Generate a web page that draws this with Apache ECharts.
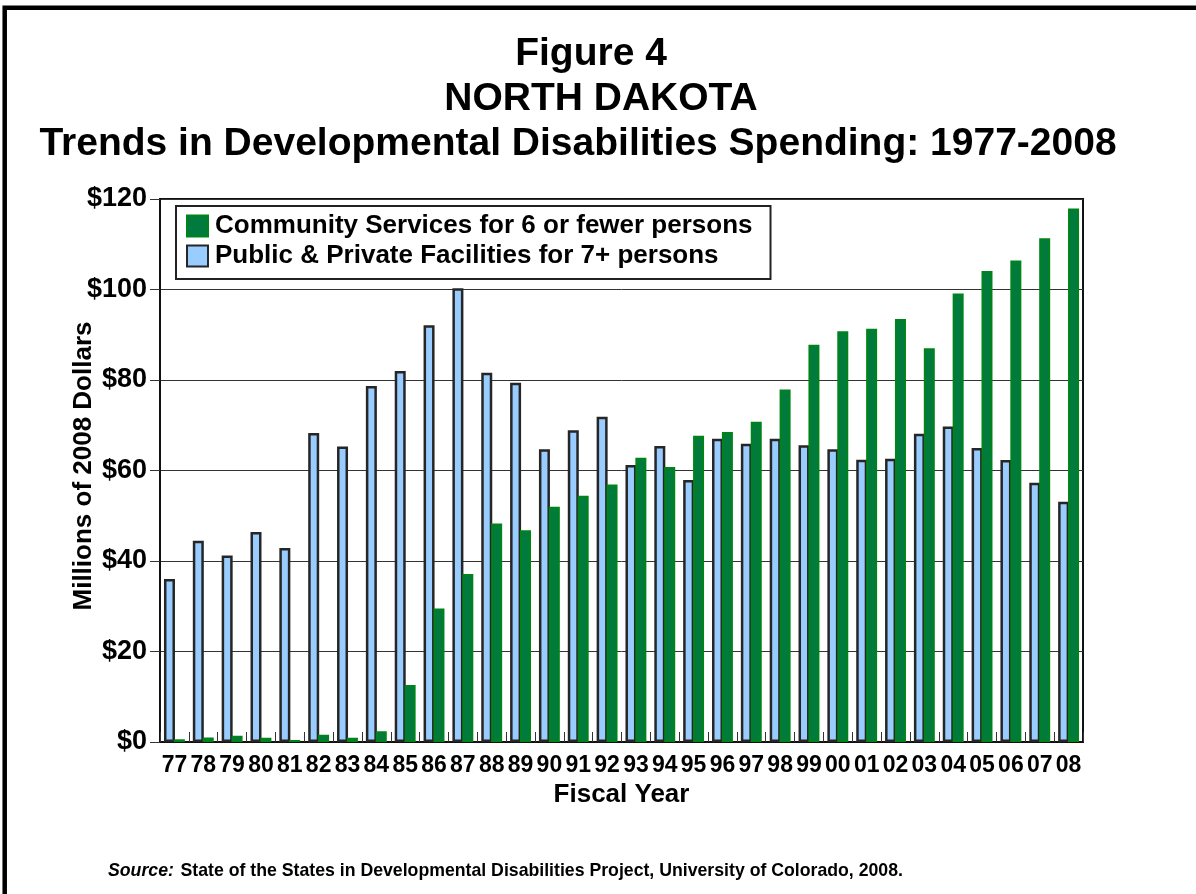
<!DOCTYPE html>
<html>
<head>
<meta charset="utf-8">
<script src="https://cdn.jsdelivr.net/npm/echarts@6/dist/echarts.min.js"></script>
<style>
html,body{margin:0;padding:0;background:#fff;}
#main{width:1196px;height:894px;}
</style>
</head>
<body>
<div id="main"></div>
<script>
var years = ['77','78','79','80','81','82','83','84','85','86','87','88','89','90','91','92','93','94','95','96','97','98','99','00','01','02','03','04','05','06','07','08'];
var facilities = [36.0,44.5,41.2,46.4,42.9,68.3,65.3,78.7,82.0,92.1,100.3,81.6,79.4,64.7,68.9,71.9,61.2,65.4,57.9,67.0,65.9,67.0,65.6,64.7,62.4,62.6,68.1,69.7,65.0,62.3,57.3,53.1];
var community = [0.6,1.0,1.4,0.95,0.45,1.6,0.95,2.4,12.6,29.5,37.1,48.3,46.8,52.0,54.4,56.9,62.8,60.8,67.7,68.5,70.8,77.9,87.8,90.8,91.3,93.5,87.0,99.1,104.1,106.4,111.3,117.9];
var yTicks = [0,20,40,60,80,100,120];
var seriesNames = ['Community Services for 6 or fewer persons','Public & Private Facilities for 7+ persons'];
var titleLines = ['Figure 4','NORTH DAKOTA','Trends in Developmental Disabilities Spending: 1977-2008'];

var FONT = 'Liberation Sans, Arial, Helvetica, sans-serif';
var chart = echarts.init(document.getElementById('main'), null, {renderer:'canvas'});
chart.setOption({
  backgroundColor:'#fff',
  animation:false,
  title:[
    {text:titleLines[0], left:586, top:27, textAlign:'center', textStyle:{fontFamily:FONT,fontWeight:'bold',fontSize:39,color:'#000',lineHeight:45}},
    {text:titleLines[1], left:596, top:72, textAlign:'center', textStyle:{fontFamily:FONT,fontWeight:'bold',fontSize:39,color:'#000',lineHeight:45}},
    {text:titleLines[2], left:573, top:117, textAlign:'center', textStyle:{fontFamily:FONT,fontWeight:'bold',fontSize:39,color:'#000',lineHeight:45}}
  ],
  legend:{
    orient:'vertical',
    left:176, top:206,
    data:[seriesNames[0], seriesNames[1]],
    backgroundColor:'#fff',
    borderColor:'#222', borderWidth:2,
    padding:[7,18,10,10],
    itemGap:4,
    itemWidth:21, itemHeight:21,
    icon:'rect',
    textStyle:{fontFamily:FONT,fontWeight:'bold',fontSize:26,color:'#000',lineHeight:25,padding:[0,0,0,2]}
  },
  grid:{left:160,right:113,top:199,bottom:152,show:true,borderColor:'#111',borderWidth:2,backgroundColor:'transparent'},
  xAxis:{
    type:'category',
    data:years,
    name:'Fiscal Year',
    nameLocation:'middle',
    nameGap:38,
    nameTextStyle:{fontFamily:FONT,fontWeight:'bold',fontSize:26,color:'#000'},
    axisLine:{show:true,lineStyle:{color:'#111',width:2}},
    axisTick:{show:true,inside:true,length:10,lineStyle:{color:'#333',width:1}},
    axisLabel:{fontFamily:FONT,fontWeight:'bold',fontSize:23,color:'#000',margin:12,interval:0},
    splitLine:{show:false}
  },
  yAxis:{
    type:'value',
    min:0,max:120,interval:20,
    axisLine:{show:true,lineStyle:{color:'#111',width:2}},
    axisTick:{show:true,inside:false,length:10,lineStyle:{color:'#333',width:1}},
    axisLabel:{fontFamily:FONT,fontWeight:'bold',fontSize:27,color:'#000',margin:13,formatter:function(v){return '$'+v;}},
    splitLine:{show:true,lineStyle:{color:'#333',width:1}}
  },
  graphic:[
    {type:'rect',silent:true,z:100,shape:{x:4.7,y:7.7,width:1400,height:1200},style:{fill:'none',stroke:'#000',lineWidth:4.5}},
    {type:'text',silent:true,x:84,y:466,rotation:Math.PI/2,style:{text:'Millions of 2008 Dollars',fontFamily:FONT,fontWeight:'bold',fontSize:26,fill:'#000',align:'center',verticalAlign:'middle'}},
    {type:'text',silent:true,x:108,y:871,style:{
      text:'{i|Source:}  {b|State of the States in Developmental Disabilities Project, University of Colorado, 2008.}',
      verticalAlign:'middle',align:'left',
      rich:{
        i:{fontFamily:FONT,fontWeight:'bold',fontStyle:'italic',fontSize:17.7,fill:'#000'},
        b:{fontFamily:FONT,fontWeight:'bold',fontSize:17.7,fill:'#000'}
      }}}
  ],
  series:[
    {
      name:seriesNames[1], type:'bar', data:facilities,
      barWidth:11, barGap:'-10%',
      itemStyle:{color:'#99ccff',borderColor:'#262626',borderWidth:2.5}
    },
    {
      name:seriesNames[0], type:'bar', data:community,
      barWidth:11,
      itemStyle:{color:'#007a3d',borderColor:'#00841a',borderWidth:2}
    }
  ]
});
</script>
</body>
</html>
